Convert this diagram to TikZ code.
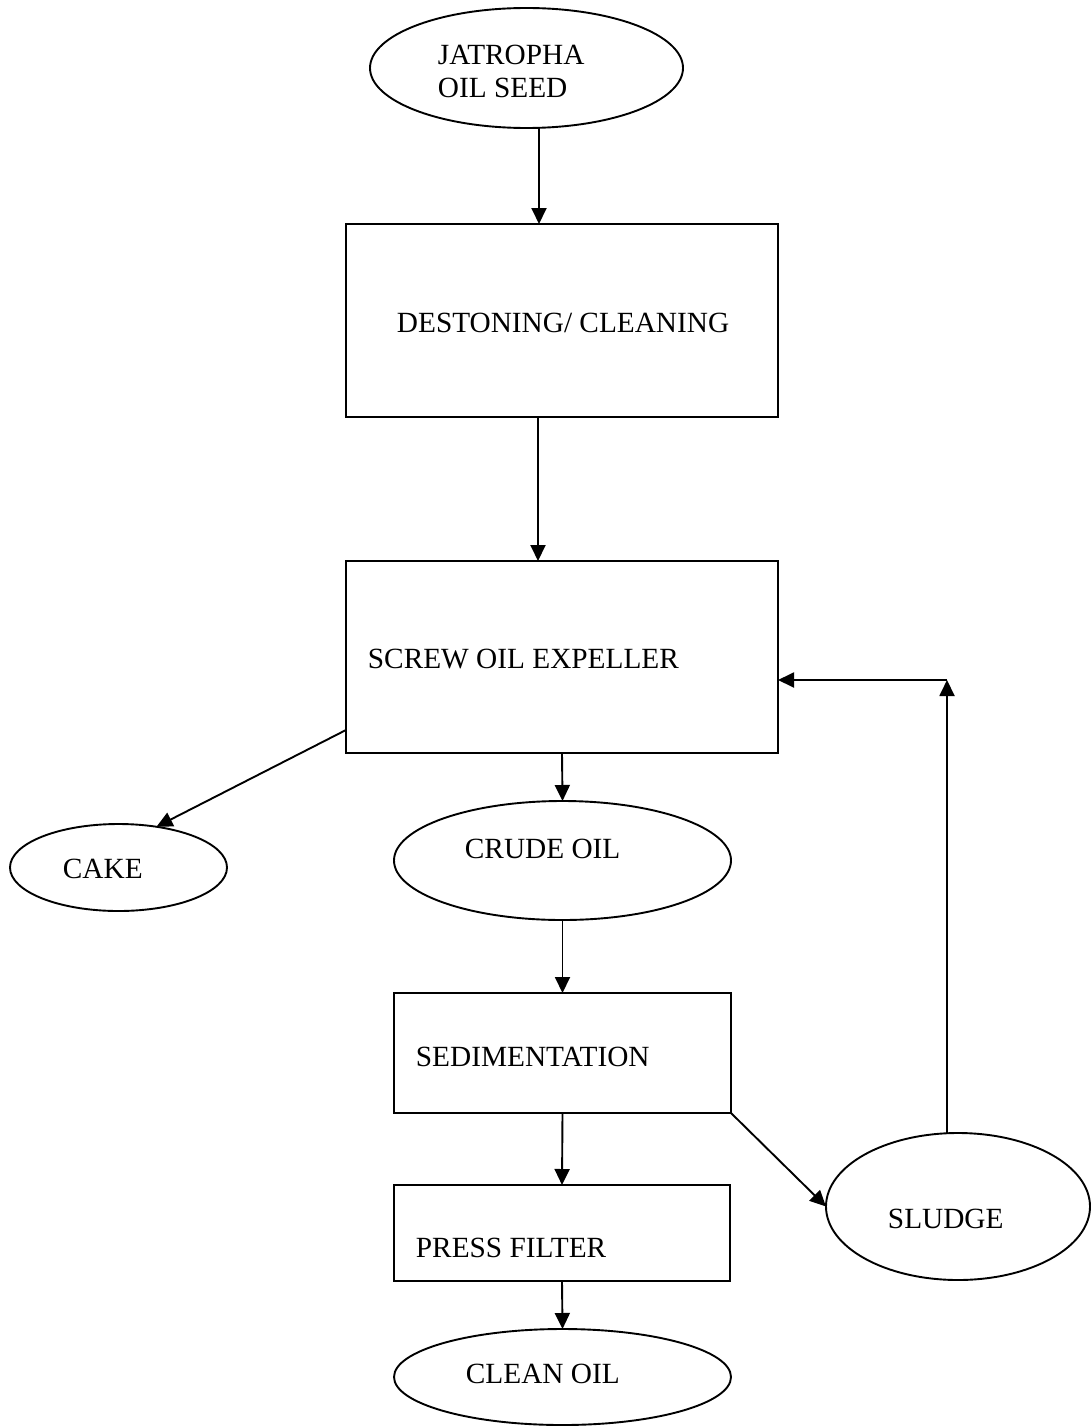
\documentclass[tikz,border=0pt]{standalone}
\usepackage{fontspec}
\setmainfont{Liberation Serif}
\usetikzlibrary{shapes.geometric,arrows.meta}
\begin{document}
\begin{tikzpicture}[x=1pt,y=-1pt,
  line width=1.9pt,
  stagebox/.style={draw,rectangle,inner sep=0pt,outer sep=0pt},
  flowoval/.style={draw,ellipse,inner sep=0pt,outer sep=0pt},
  caption/.style={anchor=base west,inner sep=0pt,font=\fontsize{29.3}{34}\selectfont},
  arr/.style={-{Triangle[length=16pt,width=15pt]}}]
\useasboundingbox (0,0) rectangle (1091,1426);

% shapes of the process chain
\node[flowoval,minimum width=313pt,minimum height=120pt] (seed) at (526.5,68) {};
\node[stagebox,minimum width=432pt,minimum height=193pt] (destone) at (562,320.5) {};
\node[stagebox,minimum width=432pt,minimum height=192pt] (screw) at (562,657) {};
\node[flowoval,minimum width=217pt,minimum height=87pt] (cake) at (118.5,867.5) {};
\node[flowoval,minimum width=337pt,minimum height=119pt] (crude) at (562.5,860.5) {};
\node[stagebox,minimum width=337pt,minimum height=120pt] (sed) at (562.5,1053) {};
\node[flowoval,minimum width=264pt,minimum height=147pt] (sludge) at (958,1206.5) {};
\node[stagebox,minimum width=336pt,minimum height=96pt] (press) at (562,1233) {};
\node[flowoval,minimum width=337pt,minimum height=96pt] (clean) at (562.5,1377) {};

% labels
\node[caption] (tseed1) at (437,65) {JATROPHA};
\node[caption] (tseed2) at (437,98) {OIL SEED};
\node[caption] (tdestone) at (396,332) {DESTONING/ CLEANING};
\node[caption] (tscrew) at (367,668) {SCREW OIL EXPELLER};
\node[caption] (tcake) at (62,878) {CAKE};
\node[caption] (tcrude) at (464,858) {CRUDE OIL};
\node[caption] (tsed) at (415,1066) {SEDIMENTATION};
\node[caption] (tsludge) at (887,1228) {SLUDGE};
\node[caption] (tpress) at (415,1257) {PRESS FILTER};
\node[caption] (tclean) at (465,1383) {CLEAN OIL};

% connectors
\coordinate (turn) at (947,680);
\draw[arr] ([xshift=12.5pt]seed.south) -- ([xshift=-23pt]destone.north);
\draw[arr] ([xshift=-24pt]destone.south) -- ([xshift=-24pt]screw.north);
\draw[arr] ([yshift=-73pt]screw.west) -- (cake.47);
\draw[arr] (screw.south) -- (crude.north);
\draw[arr] (crude.south) -- (sed.north);
\draw[arr] (sed.south) -- (press.north);
\draw[arr] (press.south) -- (clean.north);
\draw[arr] (sed.south east) -- (sludge.west);
\draw[arr] (turn |- sludge.north) -- (turn);
\draw[arr] (turn) -- (turn -| screw.east);
\end{tikzpicture}
\end{document}
